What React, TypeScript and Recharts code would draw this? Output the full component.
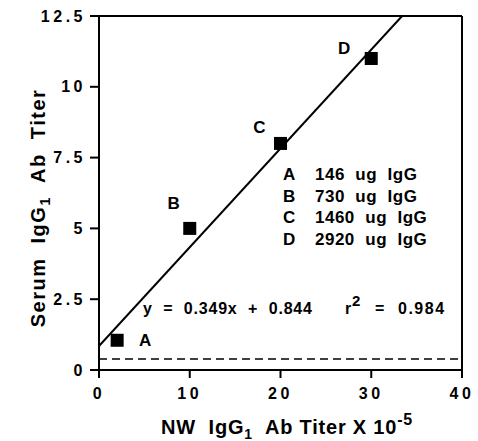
import React from 'react';
import { ComposedChart, Scatter, Line, XAxis, YAxis, ReferenceLine, Customized } from 'recharts';

const FONT = '"Liberation Sans", Arial, Helvetica, sans-serif';

const groups = ['A', 'B', 'C', 'D'];
const nwTiter = [2, 10, 20, 30];
const serumTiter = [1.05, 5.0, 8.0, 11.0];
const doses = ['146', '730', '1460', '2920'];
const fitX = [0, 33.4];
const fitY = [0.844, 12.5];
const baselineLevel = 0.39;
const xTicks = [0, 10, 20, 30, 40];
const yTicks = [0, 2.5, 5, 7.5, 10, 12.5];
const equationText = 'y  =  0.349x  +  0.844';
const rSquaredText = '0.984';

const points = groups.map((g, i) => ({ x: nwTiter[i], y: serumTiter[i], label: g }));
const fitLine = fitX.map((x, i) => ({ x, y: fitY[i] }));

const labelOffset: Record<string, [number, number]> = {
  A: [28, 0],
  B: [-16, -25],
  C: [-21, -16],
  D: [-27, -10],
};

const SquareShape = (props: any) => {
  const { cx, cy, payload } = props;
  if (cx == null || cy == null) return null;
  const s = 13;
  const off = labelOffset[payload.label] || [0, 0];
  return (
    <g>
      <rect x={cx - s / 2} y={cy - s / 2} width={s} height={s} fill="#000" />
      <text
        x={cx + off[0]}
        y={cy + off[1]}
        textAnchor="middle"
        dominantBaseline="central"
        fontFamily={FONT}
        fontWeight="bold"
        fontSize={17}
        fill="#000"
      >
        {payload.label}
      </text>
    </g>
  );
};

const Annotations = () => (
  <g fontFamily={FONT} fontWeight="bold" fill="#000">
    {groups.map((g, i) => (
      <g key={g}>
        <text x={283} y={180 + i * 21.6} fontSize={17}>{g}</text>
        <text x={315} y={180 + i * 21.6} fontSize={17} letterSpacing={0.5} style={{ whiteSpace: 'pre' }}>
          {`${doses[i]}  ug  IgG`}
        </text>
      </g>
    ))}
    <text x={143} y={314} fontSize={16} letterSpacing={0.8} style={{ whiteSpace: 'pre' }}>
      {equationText}
    </text>
    <text y={314} fontSize={16}>
      <tspan x={345}>r</tspan>
      <tspan x={352} fontSize={15} dy={-8}>2</tspan>
      <tspan x={375} dy={8}>=</tspan>
      <tspan x={398} letterSpacing={1.5}>{rSquaredText}</tspan>
    </text>
    <text x={287} y={434} fontSize={20} letterSpacing={0.8} textAnchor="middle" style={{ whiteSpace: 'pre' }}>
      <tspan>NW  IgG</tspan>
      <tspan fontSize={14} dy={5}>1</tspan>
      <tspan dy={-5}>  Ab Titer X 10</tspan>
      <tspan fontSize={16} dy={-9}>-5</tspan>
    </text>
    <text
      transform="translate(45, 208) rotate(-90)"
      fontSize={20}
      letterSpacing={1.5}
      textAnchor="middle"
      style={{ whiteSpace: 'pre' }}
    >
      <tspan>Serum  IgG</tspan>
      <tspan fontSize={14} dy={5}>1</tspan>
      <tspan dy={-5}>  Ab  Titer</tspan>
    </text>
  </g>
);

const tickStyle = {
  fontFamily: FONT,
  fontWeight: 'bold' as const,
  fontSize: 16,
  fill: '#000',
  letterSpacing: 3.5,
};

export default function App() {
  return (
    <div style={{ position: 'absolute', left: 0, top: 0, width: 478, height: 441, background: '#fff' }}>
      <ComposedChart width={478} height={441} margin={{ top: 16, right: 16, bottom: 0, left: 0 }}>
        <XAxis
          type="number"
          dataKey="x"
          domain={[0, 40]}
          ticks={xTicks}
          allowDataOverflow
          height={71}
          tickSize={8}
          tickMargin={10}
          tick={tickStyle}
          axisLine={{ stroke: '#000', strokeWidth: 2 }}
          tickLine={{ stroke: '#000', strokeWidth: 2 }}
        />
        <YAxis
          type="number"
          dataKey="y"
          domain={[0, 12.5]}
          ticks={yTicks}
          allowDataOverflow
          width={99}
          tickSize={9}
          tickMargin={4}
          tick={tickStyle}
          axisLine={{ stroke: '#000', strokeWidth: 2 }}
          tickLine={{ stroke: '#000', strokeWidth: 2 }}
        />
        <ReferenceLine y={12.5} stroke="#000" strokeWidth={2} />
        <ReferenceLine x={40} stroke="#000" strokeWidth={2} />
        <ReferenceLine y={baselineLevel} stroke="#000" strokeWidth={1.5} strokeDasharray="8 5" />
        <Line
          data={fitLine}
          dataKey="y"
          stroke="#000"
          strokeWidth={2}
          dot={false}
          activeDot={false}
          isAnimationActive={false}
        />
        <Scatter data={points} dataKey="y" shape={SquareShape} isAnimationActive={false} />
        <Customized component={Annotations} />
      </ComposedChart>
    </div>
  );
}
